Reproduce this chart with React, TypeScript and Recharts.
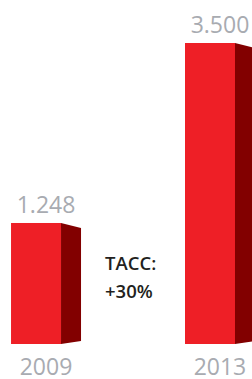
import { BarChart, Bar, XAxis, YAxis, LabelList } from "recharts";

const years = [2009, 2013];
const revenue = [1248, 3500];
const valueLabels = ["1.248", "3.500"];
const cagrLines = ["TACC:", "+30%"];

const data = years.map((year, i) => ({ year, value: revenue[i], label: valueLabels[i] }));

const W = 252;
const H = 379;
const AXIS_H = 35;
const DEPTH = 20;

const FRONT = "#ee1f26";
const SIDE = "#820000";
const GRAY = "#a8abb1";
const FONT = "'Open Sans', 'Noto Sans', sans-serif";

// front face + dark side face, stretched down to the axis line
function Prism(props: any) {
  const { x, y, width } = props;
  const bottom = H - AXIS_H;
  const r = x + width;
  return (
    <g>
      <rect x={x} y={y} width={width} height={bottom - y} fill={FRONT} />
      <polygon
        points={`${r},${y} ${r + DEPTH},${y + 5} ${r + DEPTH},${bottom - 3} ${r},${bottom}`}
        fill={SIDE}
      />
    </g>
  );
}

function ValueLabel(props: any) {
  const { x, y, width, value } = props;
  return (
    <text
      x={x + (width + DEPTH) / 2}
      y={y - 10}
      textAnchor="middle"
      fill={GRAY}
      fontFamily={FONT}
      fontWeight={400}
      fontSize={23}
    >
      {value}
    </text>
  );
}

function YearTick(props: any) {
  const { x, y, payload } = props;
  return (
    <text
      x={x + DEPTH / 2}
      y={y + 31}
      textAnchor="middle"
      fill={GRAY}
      fontFamily={FONT}
      fontWeight={400}
      fontSize={23}
    >
      {payload.value}
    </text>
  );
}

export default function App() {
  return (
    <div style={{ position: "absolute", left: 0, top: 0, width: W, height: H, overflow: "hidden", background: "#fff" }}>
      <BarChart width={W} height={H} data={data} margin={{ top: 43, right: 0, left: 0, bottom: 0 }}>
        <XAxis
          type="number"
          dataKey="year"
          domain={[2008.172, 2013.966]}
          ticks={years}
          allowDataOverflow
          height={AXIS_H}
          axisLine={false}
          tickLine={false}
          tickSize={0}
          tickMargin={0}
          tick={<YearTick />}
        />
        <YAxis hide domain={[-266, 3500]} allowDataOverflow />
        <Bar dataKey="value" barSize={50} shape={<Prism />} isAnimationActive={false}>
          <LabelList dataKey="label" content={<ValueLabel />} />
        </Bar>
      </BarChart>
      <div
        style={{
          position: "absolute",
          left: 105,
          top: 249,
          fontFamily: FONT,
          fontWeight: 600,
          fontSize: 18.5,
          lineHeight: "28px",
          color: "#231f20",
        }}
      >
        {cagrLines.map((l) => (
          <div key={l}>{l}</div>
        ))}
      </div>
    </div>
  );
}
